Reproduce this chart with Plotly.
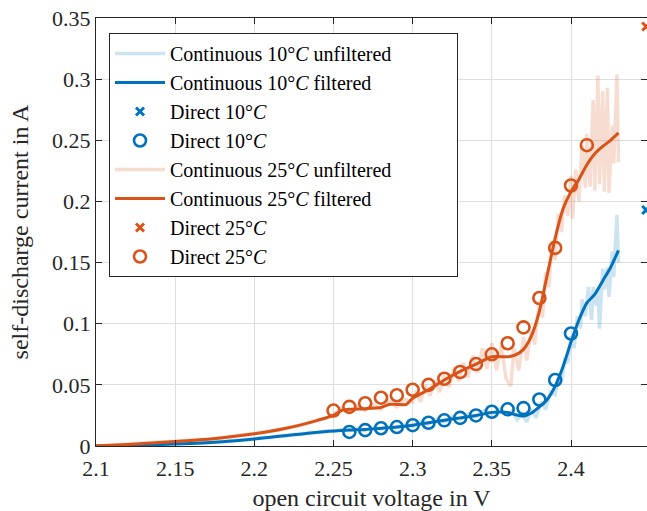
import plotly.graph_objects as go

# ---------------- data ----------------
# Continuous 10 °C, filtered
c10_f_v = [2.10, 2.13, 2.16, 2.18, 2.20, 2.22, 2.24, 2.25, 2.26, 2.27, 2.28, 2.29, 2.30,
           2.31, 2.32, 2.33, 2.34, 2.35, 2.36, 2.365, 2.37, 2.375, 2.38, 2.385, 2.39,
           2.395, 2.40, 2.405, 2.41, 2.415, 2.42, 2.425, 2.43]
c10_f_i = [0.0, 0.0008, 0.002, 0.0035, 0.0058, 0.0085, 0.0112, 0.0122, 0.013, 0.0135,
           0.0145, 0.0155, 0.017, 0.019, 0.021, 0.023, 0.025, 0.0275, 0.0275, 0.0255,
           0.0245, 0.027, 0.032, 0.038, 0.049, 0.065, 0.085, 0.103, 0.117, 0.124, 0.135,
           0.146, 0.160]

# Continuous 10 °C, unfiltered
c10_u_v = [2.10, 2.11, 2.12, 2.13, 2.14, 2.15, 2.16, 2.17, 2.18, 2.19, 2.20, 2.205, 2.21,
           2.215, 2.22, 2.225, 2.23, 2.235, 2.24, 2.245, 2.25, 2.255, 2.26, 2.265, 2.27,
           2.275, 2.28, 2.285, 2.29, 2.295, 2.30, 2.305, 2.31, 2.315, 2.32, 2.325, 2.33,
           2.335, 2.34, 2.345, 2.35, 2.355, 2.36, 2.363, 2.366, 2.369, 2.372, 2.375,
           2.378, 2.381, 2.384, 2.387, 2.390, 2.392, 2.394, 2.396, 2.398, 2.400, 2.402,
           2.404, 2.406, 2.407, 2.409, 2.411, 2.413, 2.414, 2.416, 2.417, 2.418, 2.420,
           2.421, 2.423, 2.424, 2.426, 2.427, 2.429, 2.430]
c10_u_i = [0.0, 0.0004, 0.0008, 0.0009, 0.0014, 0.0017, 0.0022, 0.0027, 0.0037, 0.0045,
           0.0060, 0.0072, 0.0068, 0.0082, 0.0080, 0.0096, 0.0095, 0.0112, 0.0108, 0.0123,
           0.0118, 0.0135, 0.0125, 0.0142, 0.0130, 0.0152, 0.0140, 0.0162, 0.0150, 0.0175,
           0.0163, 0.0195, 0.0180, 0.0215, 0.0198, 0.0238, 0.0218, 0.0262, 0.0238, 0.0290,
           0.0262, 0.0298, 0.0258, 0.0285, 0.0215, 0.0275, 0.0195, 0.0300, 0.0230, 0.0360,
           0.0300, 0.0440, 0.0420, 0.0560, 0.0520, 0.0700, 0.0680, 0.0900, 0.0800, 0.1060,
           0.0960, 0.1200, 0.1060, 0.1300, 0.1030, 0.1300, 0.1150, 0.1280, 0.0960, 0.1450,
           0.1280, 0.1460, 0.1220, 0.1590, 0.1380, 0.1890, 0.1500]

# Direct 10 °C
d10_cross_v = [2.4475]
d10_cross_i = [0.193]
d10_circ_v = [2.26, 2.27, 2.28, 2.29, 2.30, 2.31, 2.32, 2.33, 2.34, 2.35, 2.36, 2.37,
              2.38, 2.39, 2.40]
d10_circ_i = [0.0115, 0.013, 0.0145, 0.0155, 0.017, 0.019, 0.021, 0.023, 0.025, 0.028,
              0.030, 0.031, 0.038, 0.054, 0.092]

# Continuous 25 °C, filtered
c25_f_v = [2.10, 2.12, 2.14, 2.16, 2.18, 2.20, 2.21, 2.22, 2.23, 2.24, 2.25, 2.255, 2.26,
           2.27, 2.28, 2.285, 2.29, 2.296, 2.30, 2.31, 2.32, 2.33, 2.34, 2.35, 2.36,
           2.365, 2.37, 2.375, 2.38, 2.385, 2.39, 2.395, 2.40, 2.405, 2.41, 2.415, 2.42,
           2.425, 2.43]
c25_f_i = [0.0, 0.0013, 0.0028, 0.0045, 0.0068, 0.0100, 0.0120, 0.0145, 0.0175, 0.021,
           0.025, 0.029, 0.030, 0.0305, 0.0315, 0.034, 0.034, 0.034, 0.039, 0.046, 0.054,
           0.061, 0.067, 0.073, 0.073, 0.0745, 0.079, 0.090, 0.110, 0.140, 0.170, 0.194,
           0.208, 0.218, 0.230, 0.239, 0.245, 0.250, 0.256]

# Continuous 25 °C, unfiltered
c25_u_v = [2.10, 2.11, 2.12, 2.13, 2.14, 2.15, 2.16, 2.17, 2.18, 2.19, 2.20, 2.21, 2.22,
           2.23, 2.24, 2.245, 2.25, 2.255, 2.26, 2.265, 2.27, 2.275, 2.28, 2.285, 2.29,
           2.295, 2.30, 2.302, 2.305, 2.308, 2.311, 2.314, 2.317, 2.320, 2.323, 2.326,
           2.329, 2.332, 2.335, 2.338, 2.341, 2.344, 2.347, 2.350, 2.353, 2.356, 2.359,
           2.362, 2.364, 2.367, 2.370, 2.372, 2.375, 2.377, 2.380, 2.382, 2.384, 2.386,
           2.388, 2.390, 2.392, 2.394, 2.396, 2.398, 2.400, 2.401, 2.403, 2.405, 2.407,
           2.409, 2.410, 2.412, 2.414, 2.415, 2.417, 2.418, 2.420, 2.421, 2.423, 2.424,
           2.426, 2.427, 2.429, 2.430]
c25_u_i = [0.0, 0.0008, 0.0014, 0.0020, 0.0029, 0.0036, 0.0047, 0.0055, 0.0070, 0.0083,
           0.0102, 0.0118, 0.0148, 0.0172, 0.0215, 0.0225, 0.026, 0.031, 0.028, 0.033,
           0.029, 0.034, 0.030, 0.037, 0.032, 0.038, 0.036, 0.045, 0.036, 0.050, 0.041,
           0.054, 0.044, 0.058, 0.048, 0.064, 0.053, 0.068, 0.056, 0.074, 0.060, 0.080,
           0.063, 0.084, 0.062, 0.082, 0.055, 0.049, 0.080, 0.062, 0.089, 0.070, 0.094,
           0.083, 0.118, 0.105, 0.142, 0.130, 0.168, 0.152, 0.190, 0.175, 0.205, 0.188,
           0.221, 0.186, 0.226, 0.200, 0.246, 0.211, 0.255, 0.212, 0.283, 0.209, 0.303,
           0.214, 0.290, 0.208, 0.293, 0.207, 0.262, 0.231, 0.304, 0.232]

# Direct 25 °C
d25_cross_v = [2.4475]
d25_cross_i = [0.343]
d25_circ_v = [2.25, 2.26, 2.27, 2.28, 2.29, 2.30, 2.31, 2.32, 2.33, 2.34, 2.35, 2.36,
              2.37, 2.38, 2.39, 2.40, 2.41]
d25_circ_i = [0.029, 0.032, 0.035, 0.0395, 0.0415, 0.046, 0.050, 0.055, 0.0605, 0.067,
              0.075, 0.084, 0.097, 0.121, 0.162, 0.213, 0.246]

x_ticks = [2.1, 2.15, 2.2, 2.25, 2.3, 2.35, 2.4]
x_tick_text = ["2.1", "2.15", "2.2", "2.25", "2.3", "2.35", "2.4"]
y_ticks = [0, 0.05, 0.1, 0.15, 0.2, 0.25, 0.3, 0.35]
y_tick_text = ["0", "0.05", "0.1", "0.15", "0.2", "0.25", "0.3", "0.35"]

# ---------------- styling ----------------
BLUE = "#0072BD"
ORANGE = "#D95319"
BLUE_L = "rgba(0,114,189,0.2)"
ORANGE_L = "rgba(217,83,25,0.2)"
FONT = "Liberation Serif, Times New Roman, serif"
AX = "#262626"
PAD = "\u00a0" * 12   # right padding inside the legend box (MATLAB-like)

fig = go.Figure()
fig.add_trace(go.Scatter(x=c10_u_v, y=c10_u_i, mode="lines",
                         line=dict(color=BLUE_L, width=3.5),
                         name="Continuous 10°<i>C</i> unfiltered" + PAD))
fig.add_trace(go.Scatter(x=c10_f_v, y=c10_f_i, mode="lines",
                         line=dict(color=BLUE, width=3, shape="spline", smoothing=0.6),
                         name="Continuous 10°<i>C</i> filtered"))
fig.add_trace(go.Scatter(x=d10_cross_v, y=d10_cross_i, mode="markers", cliponaxis=False,
                         marker=dict(symbol="x-thin", size=8, color=BLUE,
                                     line=dict(color=BLUE, width=3)),
                         name="Direct 10°<i>C</i>"))
fig.add_trace(go.Scatter(x=d10_circ_v, y=d10_circ_i, mode="markers",
                         marker=dict(symbol="circle-open", size=12, color=BLUE,
                                     line=dict(color=BLUE, width=2.6)),
                         name="Direct 10°<i>C</i>"))
fig.add_trace(go.Scatter(x=c25_u_v, y=c25_u_i, mode="lines",
                         line=dict(color=ORANGE_L, width=3.5),
                         name="Continuous 25°<i>C</i> unfiltered" + PAD))
fig.add_trace(go.Scatter(x=c25_f_v, y=c25_f_i, mode="lines",
                         line=dict(color=ORANGE, width=3, shape="spline", smoothing=0.6),
                         name="Continuous 25°<i>C</i> filtered"))
fig.add_trace(go.Scatter(x=d25_cross_v, y=d25_cross_i, mode="markers", cliponaxis=False,
                         marker=dict(symbol="x-thin", size=8, color=ORANGE,
                                     line=dict(color=ORANGE, width=3)),
                         name="Direct 25°<i>C</i>"))
fig.add_trace(go.Scatter(x=d25_circ_v, y=d25_circ_i, mode="markers",
                         marker=dict(symbol="circle-open", size=12, color=ORANGE,
                                     line=dict(color=ORANGE, width=2.6)),
                         name="Direct 25°<i>C</i>"))

axis_common = dict(
    showline=True, linecolor=AX, linewidth=1, mirror="ticks",
    ticks="inside", ticklen=6, tickcolor=AX, tickwidth=1,
    showgrid=True, gridcolor="#DFDFDF", gridwidth=1, automargin=False,
    ticklabeloverflow="allow",
    zeroline=False, tickfont=dict(family=FONT, size=22, color=AX),
)

fig.update_layout(
    width=647, height=511,
    margin=dict(l=96, r=0, t=18, b=65),
    paper_bgcolor="white", plot_bgcolor="white",
    font=dict(family=FONT, color=AX),
    xaxis=dict(range=[2.1, 2.448], tickvals=x_ticks, ticktext=x_tick_text,
               ticklabelstandoff=3,
               title=dict(text="open circuit voltage in V",
                          font=dict(family=FONT, size=24, color=AX), standoff=8),
               **axis_common),
    yaxis=dict(range=[0, 0.35], tickvals=y_ticks, ticktext=y_tick_text,
               title=dict(text="self-discharge current in A",
                          font=dict(family=FONT, size=24, color=AX), standoff=16),
               **axis_common),
    legend=dict(x=0.0236, y=0.965, xanchor="left", yanchor="top",
                bgcolor="white", bordercolor=AX, borderwidth=1,
                font=dict(family=FONT, size=20, color="black"),
                tracegroupgap=0, itemwidth=50),
    showlegend=True,
)

# remove the browser's default 8px body margin so the figure fills the window exactly
fig.write_html("out.html",
               config={"displayModeBar": False},
               post_script="document.body.style.margin='0';"
                           "document.body.style.overflow='hidden';")
